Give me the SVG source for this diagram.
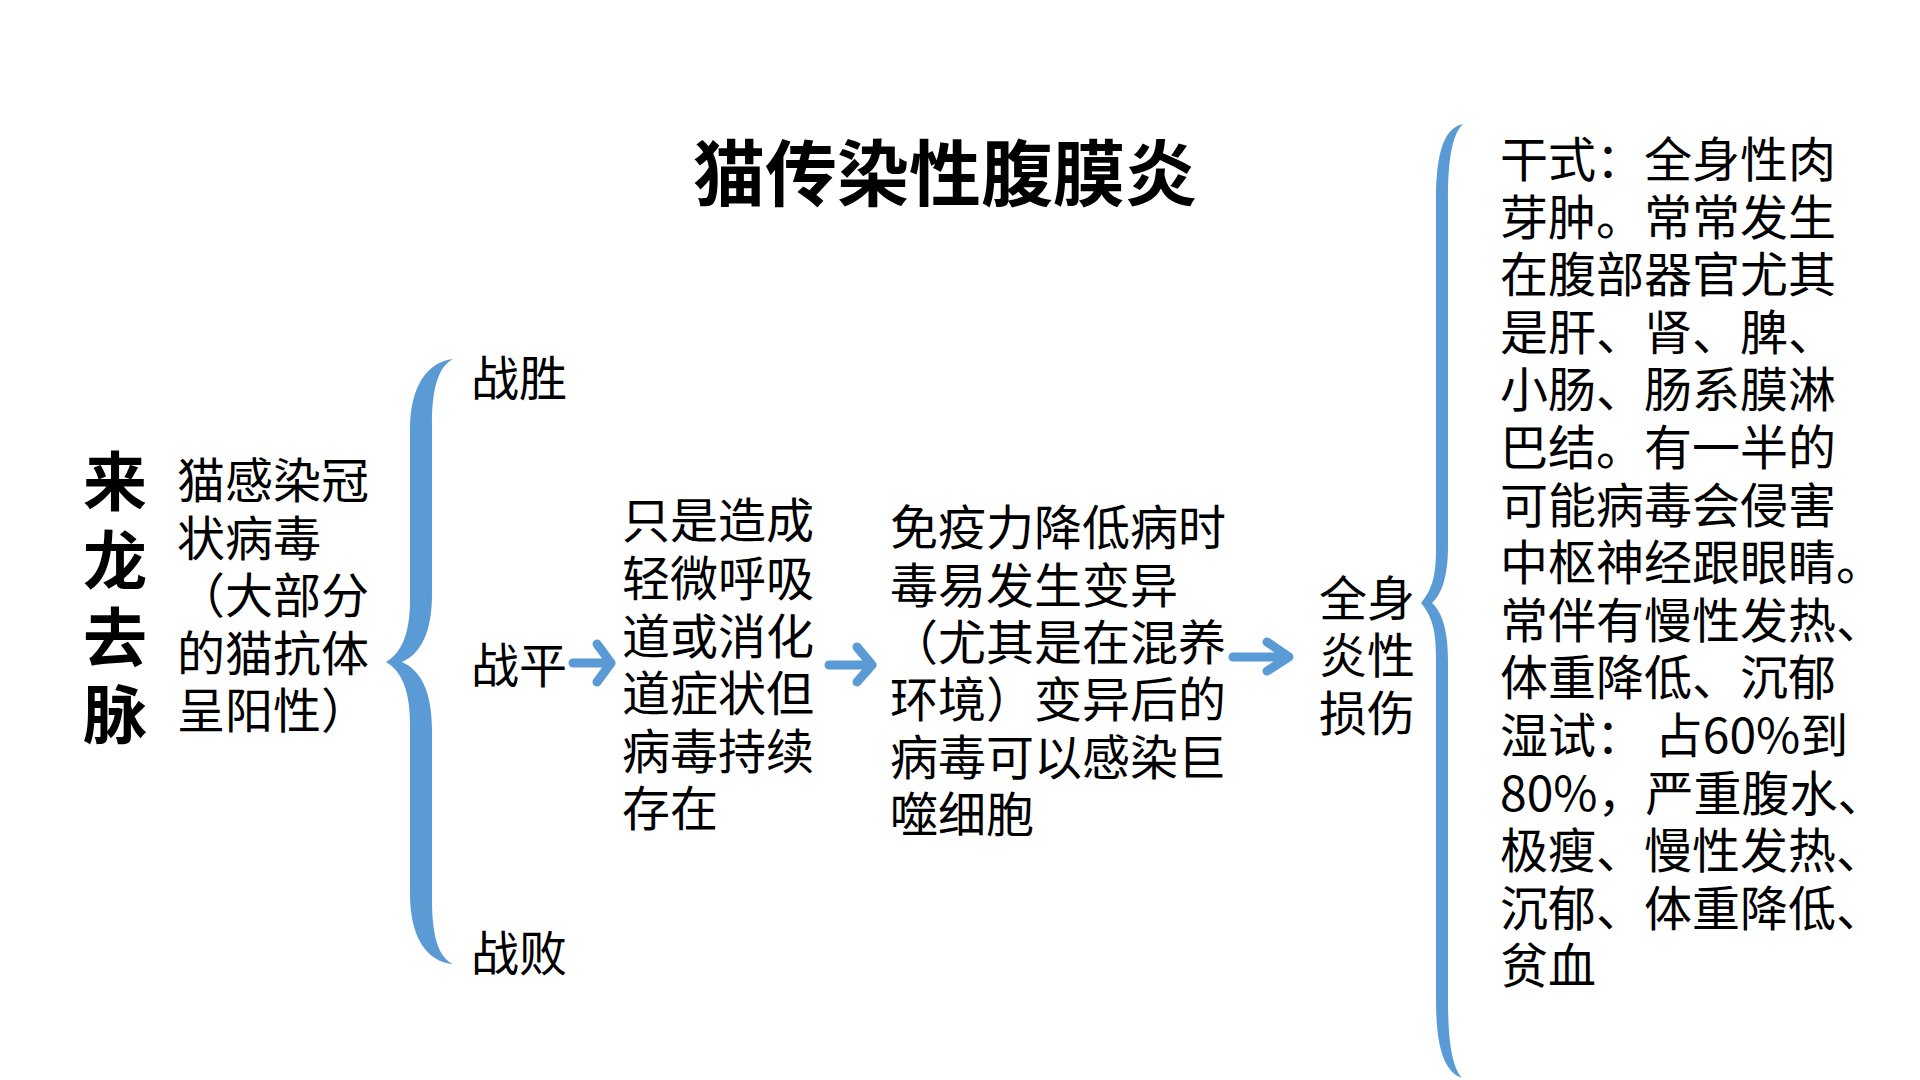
<svg xmlns="http://www.w3.org/2000/svg" width="1920" height="1080" viewBox="0 0 1920 1080">
  <style>
    text { font-family: "Noto Sans CJK SC", "Noto Sans", sans-serif; fill: #000; }
    .body { font-size: 48px; }
    .title { font-size: 72px; font-weight: 700; }
    .side { font-size: 64px; font-weight: 700; }
    .brace { fill: #5B9BD5; }
    .arrow { fill: none; stroke: #5B9BD5; stroke-width: 9; stroke-linecap: round; stroke-linejoin: round; }
  </style>
  <rect width="1920" height="1080" fill="#fff"/>

  <g id="title">
    <text class="title" x="945" y="200" text-anchor="middle">猫传染性腹膜炎</text>
  </g>

  <g id="origin-label">
    <text class="side" text-anchor="middle"><tspan x="115" y="505">来</tspan><tspan x="115" y="584">龙</tspan><tspan x="115" y="661">去</tspan><tspan x="115" y="738">脉</tspan></text>
  </g>

  <g id="infection">
    <text class="body"><tspan x="177" y="498">猫感染冠</tspan><tspan x="177" y="556">状病毒</tspan><tspan x="177" y="613">（大部分</tspan><tspan x="177" y="671">的猫抗体</tspan><tspan x="177" y="728">呈阳性）</tspan></text>
  </g>

  <g id="brace-left">
    <path class="brace" d="M453,359 C428,362 410,385 410,430 L410,600 C410,640 398,655 386,662 C398,669 410,684 410,724 L410,894 C410,939 428,962 453,964 C440,958 432,940 432,900 L432,730 C432,690 420,670 402,662 C420,654 432,634 432,594 L432,424 C432,384 440,366 453,359 Z"/>
  </g>

  <g id="outcome-win"><text class="body" x="471" y="396">战胜</text></g>
  <g id="outcome-draw"><text class="body" x="471" y="683">战平</text></g>
  <g id="outcome-lose"><text class="body" x="471" y="971">战败</text></g>

  <g id="mild">
    <text class="body"><tspan x="622" y="538">只是造成</tspan><tspan x="622" y="596">轻微呼吸</tspan><tspan x="622" y="654">道或消化</tspan><tspan x="622" y="711">道症状但</tspan><tspan x="622" y="769">病毒持续</tspan><tspan x="622" y="826">存在</tspan></text>
  </g>

  <g id="mutation">
    <text class="body"><tspan x="890" y="545">免疫力降低病时</tspan><tspan x="890" y="603">毒易发生变异</tspan><tspan x="890" y="660">（尤其是在混养</tspan><tspan x="890" y="717">环境）变异后的</tspan><tspan x="890" y="775">病毒可以感染巨</tspan><tspan x="890" y="832">噬细胞</tspan></text>
  </g>

  <g id="systemic">
    <text class="body"><tspan x="1319" y="616">全身</tspan><tspan x="1319" y="673">炎性</tspan><tspan x="1319" y="731">损伤</tspan></text>
  </g>

  <g id="brace-right">
    <path class="brace" d="M1463,124 C1445,128 1436,150 1436,200 L1436,550 C1436,580 1430,592 1421,603 C1430,614 1436,626 1436,656 L1436,1000 C1436,1050 1445,1072 1462,1078 C1453,1068 1448,1045 1448,1000 L1448,660 C1448,630 1442,612 1432,603 C1442,594 1448,576 1448,546 L1448,200 C1448,155 1453,134 1463,124 Z"/>
  </g>

  <g id="forms">
    <text class="body"><tspan x="1500" y="177">干式：全身性肉</tspan><tspan x="1500" y="235">芽肿。常常发生</tspan><tspan x="1500" y="292">在腹部器官尤其</tspan><tspan x="1500" y="350">是肝、肾、脾、</tspan><tspan x="1500" y="407">小肠、肠系膜淋</tspan><tspan x="1500" y="465">巴结。有一半的</tspan><tspan x="1500" y="523">可能病毒会侵害</tspan><tspan x="1500" y="580">中枢神经跟眼睛。</tspan><tspan x="1500" y="638">常伴有慢性发热、</tspan><tspan x="1500" y="695">体重降低、沉郁</tspan><tspan x="1500" y="753">湿试： 占60%到</tspan><tspan x="1500" y="811">80%，严重腹水、</tspan><tspan x="1500" y="868">极瘦、慢性发热、</tspan><tspan x="1500" y="926">沉郁、体重降低、</tspan><tspan x="1500" y="983">贫血</tspan></text>
  </g>

  <g id="connectors">
    <path class="arrow" d="M573,663 L610,663 M597,644 L611,663 L597,682"/>
    <path class="arrow" d="M829,665 L872,665 M857,647 L872,665 L857,682"/>
    <path class="arrow" d="M1233,657 L1289,657 M1267,642 L1289,657 L1267,671"/>
  </g>
</svg>
